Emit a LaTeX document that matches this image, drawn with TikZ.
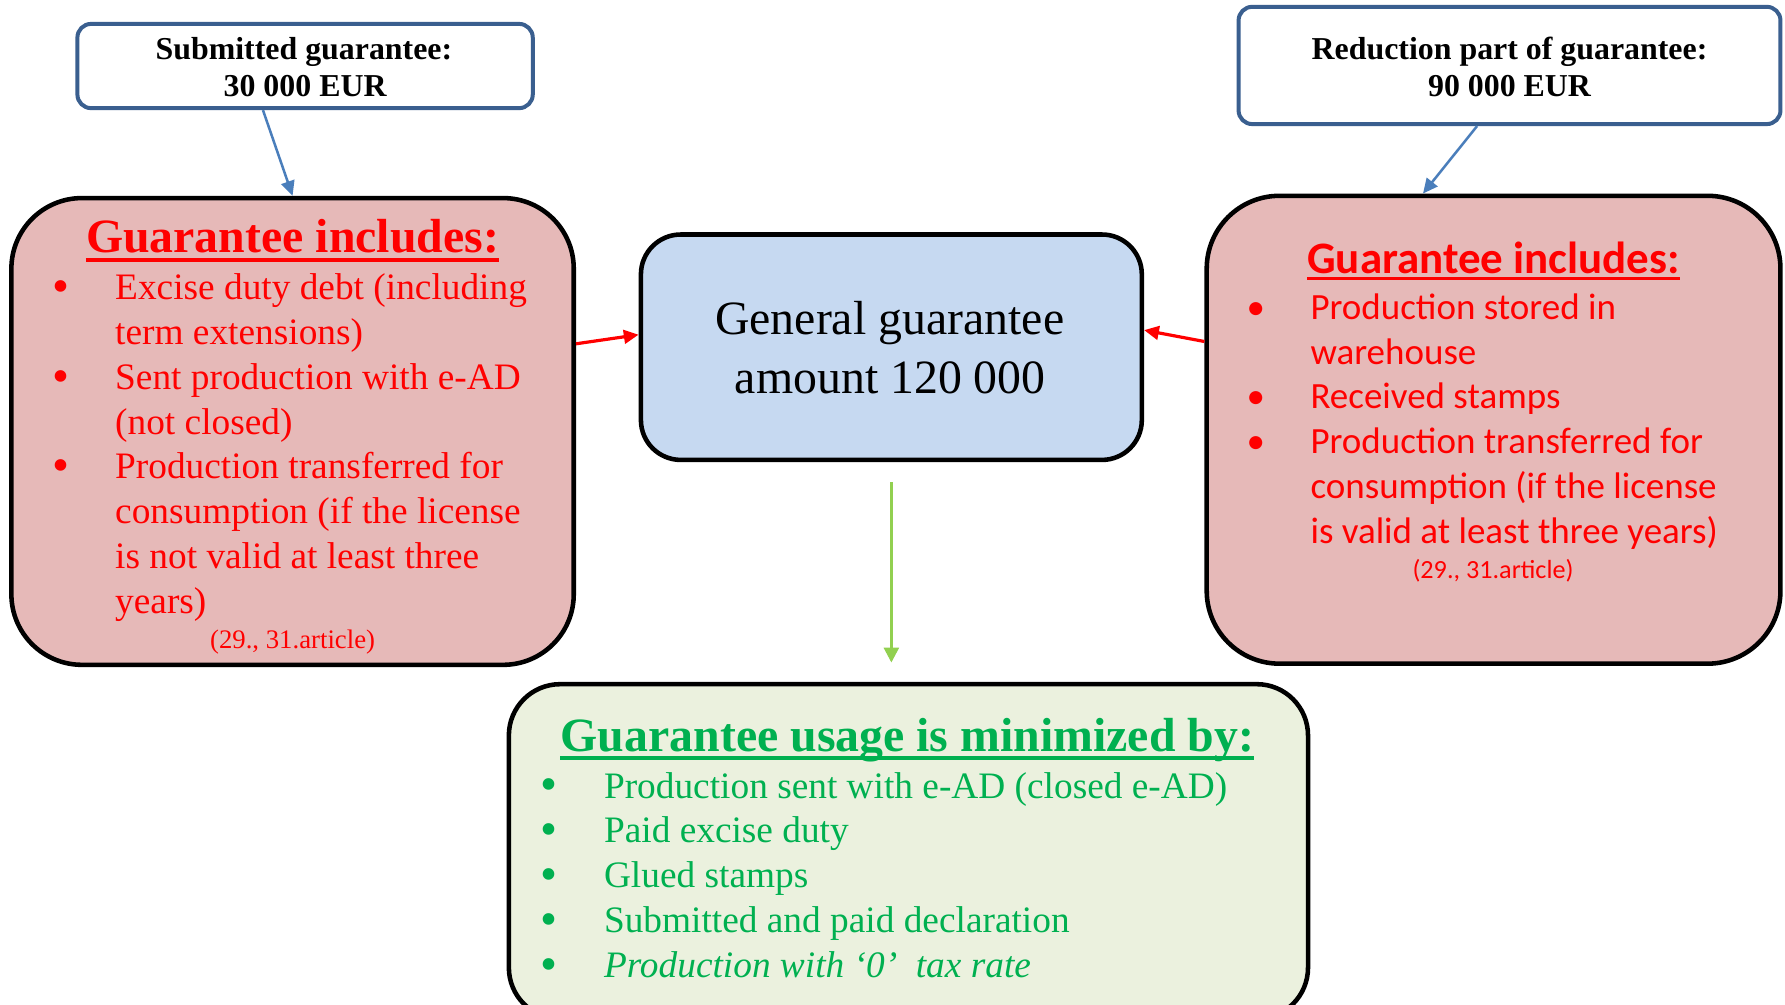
\documentclass[tikz,border=0pt]{standalone}
\usepackage{fontspec}
\setmainfont{Liberation Serif}
\newfontfamily\calibrifont{Carlito}
\usetikzlibrary{arrows.meta}
\definecolor{pinkfill}{HTML}{E6B9B8}
\definecolor{bluefill}{HTML}{C6D9F1}
\definecolor{greenfill}{HTML}{EBF1DE}
\definecolor{topborder}{HTML}{3A5F8F}
\definecolor{arrowblue}{HTML}{4A7EBB}
\definecolor{txtred}{HTML}{FF0000}
\definecolor{txtgreen}{HTML}{00B050}
\definecolor{arrowgreen}{HTML}{92D050}
\newcommand\bul{\llap{\makebox[96pt]{•}}}
\newcommand\sbul{\llap{\makebox[96pt]{\raisebox{-2.5pt}{\scalebox{1.3}{•}}}}}
\begin{document}
\begin{tikzpicture}[x=1pt,y=-1pt,
  topbox/.style={draw=topborder, line width=3.5pt, rounded corners=12pt, fill=white},
  bigbox/.style={draw=black, line width=4pt},
  txt/.style={inner sep=0pt, anchor=base west},
  ctxt/.style={inner sep=0pt, anchor=base},
  ltxt/.style={txt, text=txtred, font=\fontsize{32.8}{39.3}\selectfont},
  rtxt/.style={txt, text=txtred, font=\calibrifont\fontsize{32.5}{39}\selectfont},
  gtxt/.style={txt, text=txtgreen, font=\fontsize{32.8}{39.3}\selectfont},
  toptxt/.style={ctxt, font=\bfseries\fontsize{28}{33}\selectfont},
  bluearr/.style={draw=arrowblue, line width=2.2pt, -{Triangle[width=12pt,length=13pt]}},
  redarr/.style={draw=txtred, line width=2.8pt, -{Triangle[width=12pt,length=13pt]}},
  greenarr/.style={draw=arrowgreen, line width=2.4pt, -{Triangle[width=13pt,length=13pt]}}]
\clip (0,0) rectangle (1568,882);
\fill[white] (0,0) rectangle (1568,882);

% boxes
\node[topbox, minimum width=400pt, minimum height=74pt] (tl) at (268,58) {};
\node[topbox, minimum width=476pt, minimum height=103pt] (tr) at (1326,57.5) {};
\node[bigbox, fill=pinkfill, rounded corners=62pt, minimum width=494pt, minimum height=410pt] (lbox) at (257,379) {};
\node[bigbox, fill=pinkfill, rounded corners=64pt, minimum width=504pt, minimum height=411pt] (rbox) at (1312,377.5) {};
\node[bigbox, fill=bluefill, rounded corners=35pt, minimum width=440pt, minimum height=198pt] (cbox) at (783,305) {};
\node[bigbox, fill=greenfill, rounded corners=45pt, minimum width=702pt, minimum height=294pt] (gbox) at (798,748) {};

% connectors
\draw[bluearr] ([xshift=-37pt]tl.south) -- (lbox.north);
\draw[bluearr] ([xshift=-28.5pt]tr.south) -- ([xshift=-62pt]rbox.north);
\draw[redarr] ([yshift=77pt]lbox.east) -- ([yshift=11pt]cbox.west);
\draw[redarr] ([yshift=77.5pt]rbox.west) -- ([yshift=15pt]cbox.east);
\draw[greenarr, shorten <=17.6pt, shorten >=17pt] (cbox.south) -- (cbox.south |- gbox.north);

% top boxes text
\node[toptxt] (t1) at (267,52) {Submitted guarantee:};
\node[toptxt] (t2) at (268,85) {30 000 EUR};
\node[toptxt] (r1) at (1326,52) {Reduction part of guarantee:};
\node[toptxt] (r2) at (1326,85) {90 000 EUR};

% centre text
\node[ctxt, font=\fontsize{42}{50}\selectfont] (c1) at (781.5,294) {General guarantee};
\node[ctxt, font=\fontsize{42}{50}\selectfont] (c2) at (782,345.5) {amount 120 000};

% left box
\node[ctxt, text=txtred, font=\bfseries\fontsize{42}{50}\selectfont] (ltitle) at (257,222) {Guarantee includes:};
\draw[txtred, line width=3.8pt] ([yshift=-6.5pt]ltitle.base west) -- ([yshift=-6.5pt]ltitle.base east);
\node[ltxt] (l1) at (101,263.5) {\sbul Excise duty debt (including};
\node[ltxt] (l2) at (101,302.8) {term extensions)};
\node[ltxt] (l3) at (101,342.1) {\sbul Sent production with e-AD};
\node[ltxt] (l4) at (101,381.4) {(not closed)};
\node[ltxt] (l5) at (101,420.7) {\sbul Production transferred for};
\node[ltxt] (l6) at (101,460) {consumption (if the license};
\node[ltxt] (l7) at (101,499.3) {is not valid at least three};
\node[ltxt] (l8) at (101,538.6) {years)};
\node[ctxt, text=txtred, font=\fontsize{23.5}{28}\selectfont] (lnote) at (257,569.5) {(29., 31.article)};

% right box
\node[ctxt, text=txtred, font=\calibrifont\bfseries\fontsize{39.5}{47}\selectfont] (rtitle) at (1312,240) {Guarantee includes:};
\draw[txtred, line width=2.6pt] ([yshift=-5pt]rtitle.base west) -- ([yshift=-5pt]rtitle.base east);
\node[rtxt] (q1) at (1151,280.5) {\bul Production stored in};
\node[rtxt] (q2) at (1151,319.8) {warehouse};
\node[rtxt] (q3) at (1151,359.1) {\bul Received stamps};
\node[rtxt] (q4) at (1151,398.4) {\bul Production transferred for};
\node[rtxt] (q5) at (1151,437.7) {consumption (if the license};
\node[rtxt] (q6) at (1151,477) {is valid at least three years)};
\node[ctxt, text=txtred, font=\calibrifont\fontsize{23}{28}\selectfont] (rnote) at (1311.5,508) {(29., 31.article)};

% green box
\node[ctxt, text=txtgreen, font=\bfseries\fontsize{42}{50}\selectfont] (gtitle) at (797,660) {Guarantee usage is minimized by:};
\draw[txtgreen, line width=3.3pt] ([yshift=-6pt]gtitle.base west) -- ([yshift=-6pt]gtitle.base east);
\node[gtxt] (g1) at (530.4,701) {\sbul Production sent with e-AD (closed e-AD)};
\node[gtxt] (g2) at (530.4,740.5) {\sbul Paid excise duty};
\node[gtxt] (g3) at (530.4,780) {\sbul Glued stamps};
\node[gtxt] (g4) at (530.4,819.5) {\sbul Submitted and paid declaration};
\node[gtxt] (g5) at (530.4,859) {\sbul \textit{Production with ‘0’~ tax rate}};
\end{tikzpicture}
\end{document}
